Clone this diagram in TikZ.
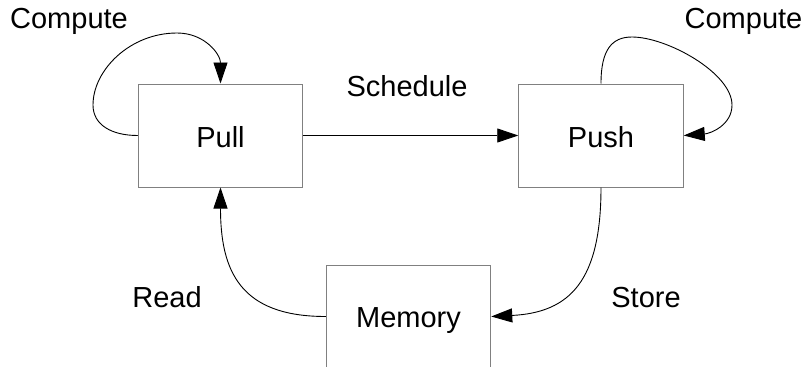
\documentclass[tikz,border=0pt]{standalone}
\usepackage{fontspec}
\setmainfont{Liberation Sans}
\usetikzlibrary{arrows.meta}
\begin{document}
\begin{tikzpicture}[x=1pt,y=-1pt,
  every node/.style={font=\fontsize{29}{34}\selectfont},
  unitbox/.style={draw=black!50,line width=1pt,minimum width=164.5pt,minimum height=103pt,inner sep=0pt},
  flow/.style={draw=black,line width=0.9pt,-{Triangle[length=21pt,width=14pt]}},
  lbl/.style={anchor=base,inner sep=0pt}]
\useasboundingbox (0,0) rectangle (804,367);
\clip (0,0) rectangle (804,367);

% processing units
\node[unitbox] (pull) at (220.5,135.5) {};
\node[unitbox] (push) at (601,135.5) {};
\node[unitbox] (mem)  at (408.5,316.5) {};

\node[lbl] (tpull) at (220.5,147) {Pull};
\node[lbl] (tpush) at (601,147) {Push};
\node[lbl] (tmem)  at (408.5,327) {Memory};

% edge labels
\node[lbl] (lcl) at (69,28) {Compute};
\node[lbl] (lcr) at (743.5,28) {Compute};
\node[lbl] (lsc) at (407,96) {Schedule};
\node[lbl] (lrd) at (167,307) {Read};
\node[lbl] (lst) at (646,307) {Store};

% waypoints of the self loops
\coordinate (pa) at (93,105);
\coordinate (pb) at (177,33);
\coordinate (qa) at (632,37);
\coordinate (qb) at (732,105);

% compute loop on Pull
\draw[flow] (pull.west) .. controls +(-26,0) and +(0,20) .. (pa)
  .. controls +(0,-35) and +(-47,0) .. (pb)
  .. controls +(28,0) and +(0,-29) .. (pull.north);

% compute loop on Push
\draw[flow] (push.north) .. controls +(0,-34) and +(-20,0) .. (qa)
  .. controls +(35,0) and +(0,-32) .. (qb)
  .. controls +(0,20) and +(27,-2) .. (push.east);

% schedule
\draw[flow] (pull.east) -- (push.west);

% read and store
\draw[flow] (mem.west) .. controls +(-86,0) and +(0,83) .. (pull.south);
\draw[flow] (push.south) .. controls +(0,93) and +(79,-4) .. (mem.east);
\end{tikzpicture}
\end{document}
